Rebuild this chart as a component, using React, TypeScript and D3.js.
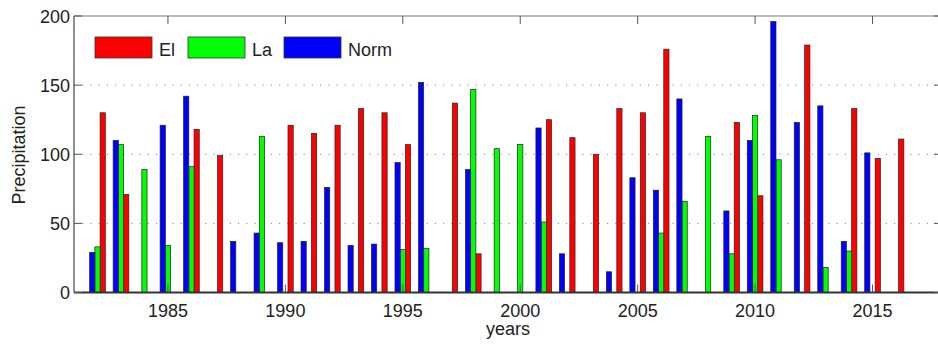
import { useEffect, useRef } from 'react'
import * as d3 from 'd3'

const years = d3.range(1982, 2017)

// precipitation per year, null = no bar
const elValues = [130, 71, null, null, 118, 99, null, null, 121, 115, 121, 133, 130, 107, null, 137, 28, null, null, 125, 112, 100, 133, 130, 176, null, null, 123, 70, null, 179, null, 133, 97, 111]
const laValues = [33, 107, 89, 34, 91, null, null, 113, null, null, null, null, null, 31, 32, null, 147, 104, 107, 51, null, null, null, null, 43, 66, 113, 28, 128, 96, null, 18, 30, null, null]
const normValues = [29, 110, null, 121, 142, null, 37, 43, 36, 37, 76, 34, 35, 94, 152, null, 89, null, null, 119, 28, null, 15, 83, 74, 140, null, 59, 110, 196, 123, 135, 37, 101, null]

const xTicks = [1985, 1990, 1995, 2000, 2005, 2010, 2015]
const yTicks = [0, 50, 100, 150, 200]

const series = [
  { name: 'El', values: elValues, color: '#ff0000', offset: 1 },
  { name: 'La', values: laValues, color: '#00ff00', offset: 0 },
  { name: 'Norm', values: normValues, color: '#0000ff', offset: -1 },
]

export default function App() {
  const svgRef = useRef<SVGSVGElement>(null)
  const width = 938
  const height = 346

  useEffect(() => {
    if (!svgRef.current) return
    const svg = d3.select(svgRef.current)
    svg.selectAll('*').remove()

    const font = 'Arial, "Liberation Sans", Helvetica, sans-serif'
    const left = 74
    const right = 943
    const top = 16
    const bottom = 292.5

    const x = d3.scaleLinear().domain([1981, 2018]).range([left, right])
    const y = d3.scaleLinear().domain([0, 200]).range([bottom, top])
    const step = 2 / 9 // bar width in years (matlab grouped bars)

    // grid
    svg.append('g')
      .selectAll('line')
      .data(yTicks.filter(d => d > 0 && d < 200))
      .enter().append('line')
      .attr('x1', left).attr('x2', right)
      .attr('y1', d => y(d)).attr('y2', d => y(d))
      .attr('stroke', '#8a8a8a')
      .attr('stroke-width', 1)
      .attr('stroke-dasharray', '1.2,7')

    // bars
    series.forEach(s => {
      svg.append('g')
        .selectAll('rect')
        .data(years.map((yr, i) => ({ yr, v: s.values[i] })).filter(d => d.v !== null))
        .enter().append('rect')
        .attr('x', d => x(d.yr + s.offset * step - step / 2))
        .attr('y', d => y(d.v as number))
        .attr('width', x(1981 + step) - x(1981))
        .attr('height', d => bottom - y(d.v as number))
        .attr('fill', s.color)
        .attr('stroke', '#222')
        .attr('stroke-width', 0.7)
    })

    // frame
    svg.append('line').attr('x1', left).attr('x2', right).attr('y1', top).attr('y2', top)
      .attr('stroke', '#777').attr('stroke-width', 1.2)
    svg.append('line').attr('x1', left).attr('x2', left).attr('y1', top).attr('y2', bottom)
      .attr('stroke', '#444').attr('stroke-width', 1.2)
    svg.append('line').attr('x1', left).attr('x2', right).attr('y1', bottom).attr('y2', bottom)
      .attr('stroke', '#333').attr('stroke-width', 2)

    // ticks
    const ticks = svg.append('g').attr('stroke', '#555').attr('stroke-width', 1)
    xTicks.forEach(t => {
      ticks.append('line').attr('x1', x(t)).attr('x2', x(t)).attr('y1', top).attr('y2', top + 8)
      ticks.append('line').attr('x1', x(t)).attr('x2', x(t)).attr('y1', bottom).attr('y2', bottom - 8)
    })
    yTicks.forEach(t => {
      ticks.append('line').attr('x1', left).attr('x2', left + 8).attr('y1', y(t)).attr('y2', y(t))
      ticks.append('line').attr('x1', right).attr('x2', right - 9).attr('y1', y(t)).attr('y2', y(t))
    })

    // tick labels
    svg.append('g')
      .selectAll('text')
      .data(xTicks)
      .enter().append('text')
      .attr('x', d => x(d))
      .attr('y', 316.5)
      .attr('text-anchor', 'middle')
      .attr('font-family', font)
      .attr('font-size', 18)
      .attr('fill', '#222')
      .text(d => d)

    svg.append('g')
      .selectAll('text')
      .data(yTicks)
      .enter().append('text')
      .attr('x', 70)
      .attr('y', d => y(d) + 6.5)
      .attr('text-anchor', 'end')
      .attr('font-family', font)
      .attr('font-size', 18)
      .attr('fill', '#222')
      .text(d => d)

    // axis titles
    svg.append('text')
      .attr('x', 508).attr('y', 335)
      .attr('text-anchor', 'middle')
      .attr('font-family', font).attr('font-size', 18).attr('fill', '#222')
      .text('years')

    svg.append('text')
      .attr('transform', 'translate(25,155) rotate(-90)')
      .attr('text-anchor', 'middle')
      .attr('font-family', font).attr('font-size', 18).attr('fill', '#222')
      .text('Precipitation')

    // legend
    const legendX = [95, 188, 284]
    series.forEach((s, i) => {
      svg.append('rect')
        .attr('x', legendX[i]).attr('y', 37)
        .attr('width', 57).attr('height', 21)
        .attr('fill', s.color)
        .attr('stroke', '#333').attr('stroke-width', 0.8)
      svg.append('text')
        .attr('x', legendX[i] + 64).attr('y', 56)
        .attr('font-family', font).attr('font-size', 18).attr('fill', '#222')
        .text(s.name)
    })
  }, [])

  return (
    <svg
      ref={svgRef}
      width={width}
      height={height}
      style={{ position: 'absolute', left: 0, top: 0, background: '#fff' }}
    />
  )
}
